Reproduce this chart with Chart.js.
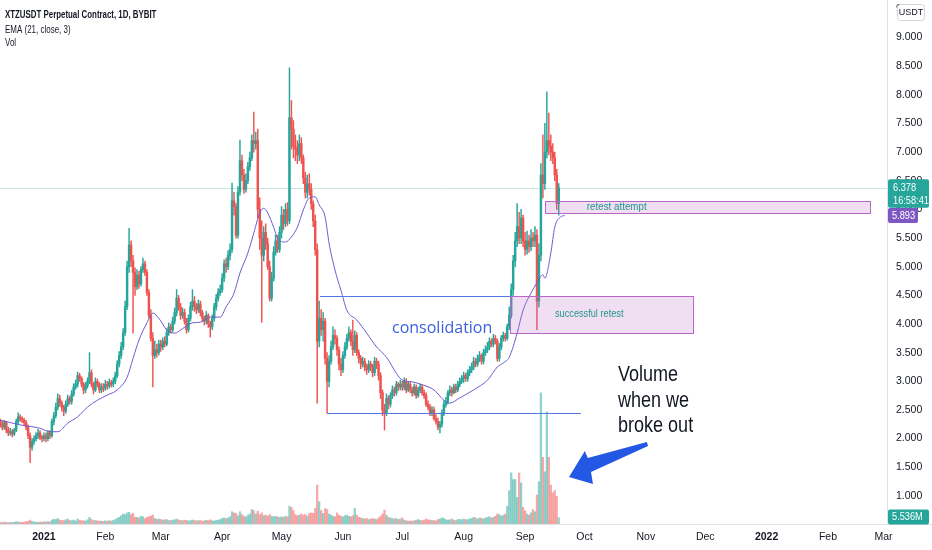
<!DOCTYPE html>
<html><head><meta charset="utf-8">
<script src="https://cdn.jsdelivr.net/npm/chart.js@4.4.0/dist/chart.umd.min.js"></script>
<style>html,body{margin:0;padding:0;background:#fff;overflow:hidden}#wrap{width:932px;height:550px;position:relative}</style>
</head><body><div id="wrap"><canvas id="c" width="932" height="550"></canvas></div>
<script>
// Day index 0 = 1 Jan 2021; first candle = 10 Dec 2020
const firstDay = -22;
const open = [
 2.30,2.25,2.20,2.28,2.15,2.10,2.12,2.08,2.15,2.30,2.38,2.35,2.32,2.28,2.20,2.05,1.85,1.95,2.00,2.05,2.10,2.02,
 2.00,2.05,2.00,2.10,2.05,2.30,2.40,2.55,2.70,2.62,2.55,2.48,2.60,2.70,2.65,2.78,2.90,2.95,3.10,3.05,2.95,2.85,2.92,3.00,3.15,2.95,2.85,3.00,2.95,2.85,2.90,
 2.88,2.95,2.92,2.98,2.95,3.00,3.10,3.30,3.45,3.60,3.85,4.30,5.00,5.38,5.10,4.90,4.65,4.85,4.70,4.95,5.05,4.90,4.55,4.15,3.75,3.45,3.55,3.50,
 3.65,3.60,3.70,3.65,3.85,3.95,3.90,4.05,4.20,4.45,4.30,4.15,4.20,4.05,3.90,4.10,4.30,4.40,4.30,4.25,4.35,4.20,4.10,4.05,4.15,4.00,3.95,4.10,4.30,4.45,4.55,
 4.60,4.80,5.05,5.00,5.20,5.30,6.15,6.05,5.55,6.30,6.85,6.60,6.35,6.50,6.75,6.90,7.20,7.15,7.20,6.00,5.50,5.20,5.60,5.40,5.00,4.45,4.80,5.25,5.45,5.30,
 5.60,5.90,5.75,6.00,5.80,7.60,7.40,7.10,7.05,6.95,7.15,6.90,6.55,6.30,6.45,6.35,6.10,5.80,5.30,3.70,4.10,3.90,4.05,3.40,3.00,3.35,3.60,3.80,3.75,3.55,3.30,
 3.20,3.45,3.60,3.75,3.85,3.70,3.55,3.80,3.50,3.40,3.30,3.35,3.25,3.20,3.30,3.25,3.15,3.35,3.30,3.10,2.80,2.50,2.45,2.70,2.60,2.75,2.85,2.80,2.95,2.90,
 2.95,2.90,3.00,2.85,2.95,2.85,2.80,2.90,2.75,2.85,2.90,2.80,2.75,2.60,2.55,2.45,2.50,2.35,2.30,2.20,2.25,2.45,2.60,2.65,2.80,2.85,2.80,2.90,2.85,2.95,3.00,
 3.05,3.10,3.05,3.15,3.20,3.25,3.35,3.30,3.40,3.45,3.35,3.50,3.55,3.60,3.70,3.65,3.75,3.70,3.40,3.60,3.75,3.80,3.75,3.95,4.15,4.60,5.10,5.45,5.70,5.50,5.85,
 5.45,5.30,5.45,5.35,5.50,5.45,5.55,4.40,5.20,6.60,6.45,7.00,7.20,7.10,7.00,6.90,6.60,6.10
];
const high = [
 2.34,2.30,2.32,2.30,2.20,2.18,2.16,2.18,2.34,2.45,2.42,2.38,2.36,2.32,2.24,2.10,2.00,2.05,2.10,2.16,2.14,2.06,
 2.10,2.10,2.14,2.14,2.34,2.46,2.62,2.78,2.76,2.66,2.58,2.66,2.76,2.74,2.84,2.96,3.02,3.16,3.14,3.08,2.98,2.98,3.06,3.50,3.20,2.98,3.06,3.04,2.98,2.96,2.96,
 3.02,3.00,3.04,3.02,3.06,3.16,3.36,3.52,3.68,3.92,4.40,5.10,5.67,5.45,5.20,4.98,4.95,4.92,5.00,5.15,5.10,4.95,4.60,4.25,3.85,3.70,3.65,3.72,
 3.72,3.76,3.78,3.92,4.02,4.00,4.12,4.28,4.60,4.50,4.36,4.28,4.26,4.10,4.16,4.38,4.60,4.48,4.36,4.42,4.40,4.24,4.14,4.22,4.18,4.05,4.16,4.36,4.52,4.62,4.68,
 4.88,5.12,5.15,5.28,5.40,6.46,6.30,6.10,6.40,7.21,6.95,6.70,6.62,6.82,7.00,7.30,7.70,7.35,7.40,6.20,5.80,5.70,5.75,5.50,5.10,4.90,5.35,5.55,5.55,5.70,
 6.05,6.00,6.10,6.12,8.47,7.90,7.55,7.30,7.20,7.30,7.25,6.95,6.65,6.60,6.62,6.45,6.15,5.90,5.40,4.40,4.25,4.20,4.10,3.50,3.45,3.70,3.95,3.90,3.80,3.60,3.40,
 3.52,3.68,3.82,3.95,3.90,4.07,3.88,3.85,3.55,3.45,3.42,3.40,3.30,3.36,3.35,3.30,3.42,3.40,3.35,3.15,2.85,2.60,2.78,2.75,2.80,2.92,2.90,3.00,2.98,3.02,
 3.00,3.06,3.05,3.00,2.98,2.90,2.95,2.94,2.90,2.95,2.94,2.85,2.80,2.66,2.60,2.56,2.55,2.42,2.36,2.30,2.50,2.66,2.72,2.84,2.92,2.90,2.95,2.95,3.00,3.06,3.10,
 3.16,3.14,3.20,3.26,3.32,3.42,3.40,3.46,3.52,3.48,3.56,3.62,3.68,3.76,3.74,3.82,3.80,3.74,3.66,3.80,3.86,3.84,4.00,4.30,4.70,5.20,5.60,6.10,5.95,6.00,5.90,
 5.60,5.62,5.55,5.65,5.60,5.70,5.65,5.40,6.80,7.30,7.50,8.05,7.68,7.30,7.15,7.00,6.70,6.45
];
const low = [
 2.20,2.15,2.16,2.10,2.05,2.06,2.03,2.05,2.12,2.25,2.30,2.28,2.24,2.15,2.00,1.58,1.80,1.90,1.96,2.00,1.98,1.94,
 1.96,1.94,1.96,2.00,2.02,2.24,2.36,2.50,2.56,2.48,2.40,2.44,2.56,2.60,2.60,2.74,2.86,2.90,3.00,2.90,2.78,2.80,2.88,2.96,2.90,2.78,2.82,2.90,2.80,2.80,2.82,
 2.84,2.86,2.88,2.90,2.90,2.96,3.06,3.25,3.40,3.55,3.80,4.25,4.90,5.00,3.84,4.50,4.60,4.62,4.66,4.90,4.85,4.50,4.10,3.70,2.90,3.40,3.42,3.46,
 3.52,3.55,3.60,3.62,3.80,3.84,3.86,4.00,4.14,4.24,4.08,4.10,4.00,3.84,3.86,4.05,4.24,4.22,4.18,4.20,4.14,4.04,3.98,4.00,3.94,3.77,3.90,4.05,4.24,4.40,4.50,
 4.55,4.74,4.90,4.95,5.12,5.25,5.90,5.50,5.50,6.25,6.50,6.28,6.30,6.45,6.68,6.85,7.00,7.05,5.85,5.30,4.03,5.10,5.30,4.95,4.40,4.40,4.75,5.20,5.25,5.25,
 5.50,5.65,5.70,5.72,5.75,7.05,6.90,6.85,6.80,6.85,6.80,6.45,6.20,6.20,6.25,6.00,5.70,5.20,2.62,3.60,3.80,3.70,3.30,2.45,2.90,3.30,3.55,3.65,3.45,3.20,3.10,
 3.15,3.40,3.55,3.70,3.62,3.45,3.50,3.45,3.32,3.22,3.25,3.18,3.12,3.15,3.18,3.08,3.10,3.22,3.02,2.70,2.40,2.15,2.40,2.52,2.55,2.70,2.74,2.76,2.84,2.85,
 2.84,2.85,2.80,2.82,2.80,2.74,2.76,2.70,2.72,2.80,2.76,2.70,2.56,2.50,2.40,2.40,2.32,2.25,2.15,2.10,2.20,2.40,2.55,2.60,2.75,2.74,2.78,2.80,2.82,2.90,2.96,
 2.98,3.00,3.00,3.10,3.15,3.20,3.25,3.26,3.34,3.30,3.30,3.45,3.50,3.55,3.60,3.60,3.65,3.35,3.35,3.55,3.70,3.70,3.72,3.90,4.10,4.50,5.00,5.35,5.40,5.40,5.35,
 5.20,5.22,5.25,5.28,5.35,5.35,3.90,4.30,5.10,6.20,6.35,6.90,6.95,6.85,6.80,6.50,6.00,5.90
];
const close = [
 2.25,2.20,2.28,2.15,2.10,2.12,2.08,2.15,2.30,2.38,2.35,2.32,2.28,2.20,2.05,1.85,1.95,2.00,2.05,2.10,2.02,2.00,
 2.05,2.00,2.10,2.05,2.30,2.40,2.55,2.70,2.62,2.55,2.48,2.60,2.70,2.65,2.78,2.90,2.95,3.10,3.05,2.95,2.85,2.92,3.00,3.15,2.95,2.85,3.00,2.95,2.85,2.90,2.88,
 2.95,2.92,2.98,2.95,3.00,3.10,3.30,3.45,3.60,3.85,4.30,5.00,5.38,5.10,4.90,4.65,4.85,4.70,4.95,5.05,4.90,4.55,4.15,3.75,3.45,3.55,3.50,3.65,
 3.60,3.70,3.65,3.85,3.95,3.90,4.05,4.20,4.45,4.30,4.15,4.20,4.05,3.90,4.10,4.30,4.40,4.30,4.25,4.35,4.20,4.10,4.05,4.15,4.00,3.95,4.10,4.30,4.45,4.55,4.60,
 4.80,5.05,5.00,5.20,5.30,6.15,6.05,5.55,6.30,6.85,6.60,6.35,6.50,6.75,6.90,7.20,7.15,7.20,6.00,5.50,5.20,5.60,5.40,5.00,4.45,4.80,5.25,5.45,5.30,5.60,
 5.90,5.75,6.00,5.80,7.60,7.40,7.10,7.05,6.95,7.15,6.90,6.55,6.30,6.45,6.35,6.10,5.80,5.30,3.70,4.10,3.90,4.05,3.40,3.00,3.35,3.60,3.80,3.75,3.55,3.30,3.20,
 3.45,3.60,3.75,3.85,3.70,3.55,3.80,3.50,3.40,3.30,3.35,3.25,3.20,3.30,3.25,3.15,3.35,3.30,3.10,2.80,2.50,2.45,2.70,2.60,2.75,2.85,2.80,2.95,2.90,2.95,
 2.90,3.00,2.85,2.95,2.85,2.80,2.90,2.75,2.85,2.90,2.80,2.75,2.60,2.55,2.45,2.50,2.35,2.30,2.20,2.25,2.45,2.60,2.65,2.80,2.85,2.80,2.90,2.85,2.95,3.00,3.05,
 3.10,3.05,3.15,3.20,3.25,3.35,3.30,3.40,3.45,3.35,3.50,3.55,3.60,3.70,3.65,3.75,3.70,3.40,3.60,3.75,3.80,3.75,3.95,4.15,4.60,5.10,5.45,5.70,5.50,5.85,5.45,
 5.30,5.45,5.35,5.50,5.45,5.55,4.40,5.20,6.60,6.45,7.00,7.20,7.10,7.00,6.90,6.60,6.10,6.378
];
// volume in millions
const volume = [
 1.5,1.2,1.8,1.4,1.3,1.5,1.2,1.6,2.0,1.8,1.5,1.4,1.6,2.2,2.5,3.5,2.4,1.8,1.6,1.5,1.8,1.6,
 2.0,1.8,2.2,2.0,3.5,4.2,4.0,5.0,3.6,3.2,3.0,3.8,4.5,3.2,3.0,3.6,2.8,4.5,3.4,2.8,3.0,2.6,3.8,6.0,4.2,3.0,3.2,2.8,2.6,2.5,2.4,
 2.8,2.5,3.0,2.6,3.2,4.0,5.2,6.0,7.5,9.0,8.5,10.0,10.5,8.5,9.5,6.0,6.0,5.5,7.0,6.5,4.8,6.0,6.5,7.0,8.0,5.0,4.2,4.5,
 4.0,3.5,3.8,4.0,3.2,3.0,3.5,3.8,4.5,3.6,3.2,3.0,3.4,3.2,2.8,3.0,3.6,3.2,2.8,3.0,3.2,2.6,2.8,3.4,3.0,3.8,3.0,2.6,3.2,3.6,4.0,
 5.0,5.5,4.8,5.5,6.5,11.0,10.0,9.5,7.5,11.0,8.5,7.0,6.5,8.0,9.0,13.0,12.0,9.0,11.5,8.5,10.0,7.5,8.0,7.0,8.5,7.0,6.5,7.0,6.5,6.0,
 6.5,6.0,7.0,6.5,16.0,15.0,12.0,8.5,7.5,8.0,9.0,8.0,8.5,7.0,9.5,10.0,9.5,14.0,35.0,20.0,12.0,9.5,14.0,13.0,9.0,8.0,7.0,6.5,10.0,8.0,7.0,
 6.5,7.5,8.0,7.0,6.5,7.5,14.0,8.0,6.0,5.5,5.0,4.5,5.0,4.0,4.5,5.0,4.5,4.0,5.5,7.0,9.0,12.5,8.0,6.0,5.5,5.0,4.5,5.0,4.0,4.5,
 5.5,3.5,3.0,2.5,2.8,2.6,3.0,3.5,4.0,3.2,3.0,3.5,4.5,3.8,3.5,3.0,3.2,2.8,4.0,4.5,5.5,5.0,4.0,3.5,3.8,4.5,3.5,3.0,4.0,4.2,3.8,
 4.5,3.8,4.0,4.5,5.0,6.0,5.5,4.5,5.5,5.0,4.5,5.5,6.0,6.5,5.5,6.0,7.0,9.0,8.5,7.0,8.0,9.0,16.0,30.0,46.0,40.0,40.0,24.0,46.0,37.0,15.0,
 12.0,9.0,8.0,10.0,13.0,11.0,26.0,38.0,118.0,60.0,47.0,101.0,60.0,35.0,28.0,30.0,25.0,5.536
];
// EMA (21, close, offset 3)
const emaDays = [-22,-12,-2,3,7,12,17,22,27,32,37,42,45,48,52,55,58,62,66,70,75,79,84,89,92,96,99,103,106,109,111,113,116,118,122,125,128,131,134,137,139,142,144,147,150,153,158,163,168,173,178,181,186,191,197,202,205,210,217,224,229,232,235,239,242,246,249,252,253,256,258,261,263];
const emaValues = [2.32,2.24,2.18,2.12,2.12,2.27,2.38,2.55,2.67,2.76,2.85,3.07,3.40,3.72,4.02,4.19,4.10,3.90,3.84,3.92,4.02,4.03,4.12,4.12,4.30,4.54,4.89,5.24,5.59,5.94,6.02,5.94,5.69,5.50,5.43,5.52,5.69,5.99,6.20,6.22,6.08,5.87,5.41,4.94,4.59,4.24,4.07,3.84,3.60,3.42,3.14,3.02,2.99,2.94,2.85,2.67,2.62,2.71,2.85,3.02,3.25,3.32,3.42,3.84,4.24,4.54,4.72,4.86,4.80,5.24,5.69,5.87,5.893];
const monthTickDays = [0,31,59,90,120,151,181,212,243,273,304,334,365,396,424];
const monthTickLabels = ['2021','Feb','Mar','Apr','May','Jun','Jul','Aug','Sep','Oct','Nov','Dec','2022','Feb','Mar'];
const yearTickDays = [0,365];
const priceTicks = [1,1.5,2,2.5,3,3.5,4,4.5,5,5.5,6,6.5,7,7.5,8,8.5,9,9.5];

// drawings (in day / price units)
const NARROW = '"Liberation Sans", Arial, sans-serif';
const consolidationLines = [{from:139.4,to:235.4,price:4.49},{from:142.9,to:271.2,price:2.45}];
const zoneBoxes = [{from:235.4,to:327.8,top:4.49,bottom:3.84},{from:253,to:417.2,top:6.15,bottom:5.94}];
const zoneTexts = [
 {text:'consolidation',day:175.8,price:3.843,font:'16px "Open Sans", sans-serif',color:'#3a62dc',sx:1},
 {text:'successful retest',day:258.1,price:4.122,font:'11.5px ' + NARROW,color:'#22968a',sx:0.8},
 {text:'retest attempt',day:274.2,price:5.99,font:'11.5px ' + NARROW,color:'#22968a',sx:0.85},
 {text:'Volume',day:289.9,price:3.005,font:'22px ' + NARROW,color:'#131722',sx:0.82},
 {text:'when we',day:289.9,price:2.551,font:'22px ' + NARROW,color:'#131722',sx:0.82},
 {text:'broke out',day:289.9,price:2.115,font:'22px ' + NARROW,color:'#131722',sx:0.82}
];
const arrowDays = [304.5,274.7,273.2,265.2,277.3,276.3,305.1];
const arrowPrices = [1.941,1.661,1.784,1.330,1.208,1.417,1.871];

const UP = '#26a69a', DN = '#ef5350';
const N = close.length;
const days = close.map((_, i) => firstDay + i);
const isUp = close.map((c, i) => c >= open[i]);

function narrowText(ctx, text, x0, y0, sx) {
  ctx.save(); ctx.translate(x0, y0); ctx.scale(sx, 1); ctx.fillText(text, 0, 0); ctx.restore();
}

const overlay = {
  id: 'overlay',
  beforeDatasetsDraw(chart) {
    const {ctx, chartArea: a, scales: {y}} = chart;
    const py = Math.round(y.getPixelForValue(close[N-1])) + 0.5;
    ctx.save();
    ctx.strokeStyle = '#c3e6e2'; ctx.lineWidth = 1;
    ctx.beginPath(); ctx.moveTo(a.left, py); ctx.lineTo(a.right, py); ctx.stroke();
    ctx.restore();
  },
  afterDatasetsDraw(chart) {
    const {ctx, chartArea: a, scales: {x, y}} = chart;
    ctx.save();
    ctx.beginPath(); ctx.rect(a.left, a.top, a.right - a.left, a.bottom - a.top); ctx.clip();
    zoneBoxes.forEach(b => {
      const x1 = Math.round(x.getPixelForValue(b.from)) + 0.5, x2 = Math.round(x.getPixelForValue(b.to)) + 0.5;
      const y1 = Math.round(y.getPixelForValue(b.top)) + 0.5, y2 = Math.round(y.getPixelForValue(b.bottom)) + 0.5;
      ctx.fillStyle = 'rgba(186,104,200,0.22)';
      ctx.fillRect(x1, y1, x2 - x1, y2 - y1);
      ctx.strokeStyle = '#b967c7'; ctx.lineWidth = 1;
      ctx.strokeRect(x1, y1, x2 - x1, y2 - y1);
    });
    ctx.strokeStyle = '#5479e2'; ctx.lineWidth = 1;
    consolidationLines.forEach(l => {
      const yy = Math.round(y.getPixelForValue(l.price)) + 0.5;
      ctx.beginPath(); ctx.moveTo(x.getPixelForValue(l.from), yy); ctx.lineTo(x.getPixelForValue(l.to), yy); ctx.stroke();
    });
    ctx.textBaseline = 'alphabetic'; ctx.textAlign = 'left';
    zoneTexts.forEach(t => {
      ctx.font = t.font; ctx.fillStyle = t.color;
      narrowText(ctx, t.text, x.getPixelForValue(t.day), y.getPixelForValue(t.price), t.sx);
    });
    ctx.fillStyle = '#2358e5';
    ctx.beginPath();
    arrowDays.forEach((d, i) => {
      const px = x.getPixelForValue(d), py = y.getPixelForValue(arrowPrices[i]);
      if (i === 0) ctx.moveTo(px, py); else ctx.lineTo(px, py);
    });
    ctx.closePath(); ctx.fill();
    ctx.restore();
  },
  afterDraw(chart) {
    const {ctx, chartArea: a, scales: {y, yv}} = chart;
    ctx.save();
    ctx.strokeStyle = '#e0e3eb'; ctx.lineWidth = 1;
    ctx.beginPath(); ctx.moveTo(a.right + 0.5, 0); ctx.lineTo(a.right + 0.5, a.bottom); ctx.stroke();
    ctx.beginPath(); ctx.moveTo(0, a.bottom + 0.5); ctx.lineTo(932, a.bottom + 0.5); ctx.stroke();
    const rr = (x0, y0, w, h, r) => { ctx.beginPath(); ctx.roundRect(x0, y0, w, h, r); };
    ctx.textBaseline = 'middle'; ctx.textAlign = 'left';
    const f = '10.5px "Liberation Sans", Arial, sans-serif';
    const yl = y.getPixelForValue(close[N-1]);
    ctx.fillStyle = UP; rr(a.right + 1, yl - 8.5, 41, 28.5, 2); ctx.fill();
    ctx.fillStyle = '#ffffff'; ctx.font = f;
    narrowText(ctx, close[N-1].toFixed(3), a.right + 6, yl + 0.5, 0.88);
    narrowText(ctx, '16:58:41', a.right + 6, yl + 13, 0.88);
    const ye = y.getPixelForValue(emaValues[emaValues.length-1]);
    ctx.fillStyle = '#7e57c2'; rr(a.right + 1, ye - 7.5, 30, 15, 2); ctx.fill();
    ctx.fillStyle = '#ffffff';
    narrowText(ctx, emaValues[emaValues.length-1].toFixed(3), a.right + 5, ye + 0.5, 0.88);
    const yvv = Math.min(yv.getPixelForValue(volume[N-1]), a.bottom - 7);
    ctx.fillStyle = UP; rr(a.right + 1, yvv - 7.5, 41, 15, 2); ctx.fill();
    ctx.fillStyle = '#ffffff';
    narrowText(ctx, volume[N-1].toFixed(3) + 'M', a.right + 5, yvv + 0.5, 0.88);
    ctx.fillStyle = '#ffffff'; ctx.strokeStyle = '#d1d4dc';
    rr(a.right + 10.5, 4.5, 27, 16, 3); ctx.fill(); ctx.stroke();
    ctx.fillStyle = '#131722'; ctx.textAlign = 'center'; ctx.font = '9px "Liberation Sans", Arial, sans-serif';
    ctx.fillText('USDT', a.right + 24, 13);
    ctx.textAlign = 'left';
    ctx.font = 'bold 10.5px "Liberation Sans", Arial, sans-serif';
    narrowText(ctx, 'XTZUSDT Perpetual Contract, 1D, BYBIT', 5, 15, 0.75);
    ctx.font = '10.5px "Liberation Sans", Arial, sans-serif';
    narrowText(ctx, 'EMA (21, close, 3)', 5, 30.5, 0.76);
    narrowText(ctx, 'Vol', 5, 43.5, 0.76);
    ctx.restore();
  }
};

new Chart(document.getElementById('c'), {
  type: 'bar',
  data: {
    datasets: [
      { type: 'line', label: 'EMA', data: emaDays.map((d, i) => ({x: d, y: emaValues[i]})),
        borderColor: '#6d5bd0', borderWidth: 1, pointRadius: 0, cubicInterpolationMode: 'monotone',
        yAxisID: 'y', order: 0 },
      { label: 'body', data: days.map((d, i) => ({x: d, y: [open[i], close[i]]})),
        backgroundColor: isUp.map(u => u ? UP : DN), barThickness: 1.8, grouped: false, borderWidth: 0,
        yAxisID: 'y', order: 1 },
      { label: 'wick', data: days.map((d, i) => ({x: d, y: [low[i], high[i]]})),
        backgroundColor: isUp.map(u => u ? UP : DN), barThickness: 0.8, grouped: false, borderWidth: 0,
        yAxisID: 'y', order: 2 },
      { label: 'volume', data: days.map((d, i) => ({x: d, y: volume[i]})),
        backgroundColor: isUp.map(u => u ? 'rgba(38,166,154,0.5)' : 'rgba(239,83,80,0.5)'),
        barThickness: 1.6, grouped: false, borderWidth: 0, yAxisID: 'yv', order: 3 }
    ]
  },
  options: {
    responsive: false, animation: false,
    layout: {padding: 0},
    plugins: {legend: {display: false}, tooltip: {enabled: false}},
    scales: {
      x: {
        type: 'linear', min: -22.2, max: 425.8, offset: false,
        grid: {display: false, drawTicks: false}, border: {display: false},
        afterFit(s) { s.height = 26; s.paddingLeft = 0; s.paddingRight = 0; },
        afterBuildTicks(s) { s.ticks = monthTickDays.map(v => ({value: v})); },
        ticks: {
          autoSkip: false, maxRotation: 0, padding: 7, color: '#131722',
          font: (c) => ({family: '"Liberation Sans", Arial, sans-serif', size: 10.5,
            weight: (c.tick && yearTickDays.includes(c.tick.value)) ? 'bold' : 'normal'}),
          callback: (v) => monthTickLabels[monthTickDays.indexOf(v)]
        }
      },
      y: {
        position: 'right', min: 0.5096, max: 9.6545,
        grid: {display: false, drawTicks: false}, border: {display: false},
        afterFit(s) { s.width = 45; s.paddingTop = 0; s.paddingBottom = 0; },
        afterBuildTicks(s) { s.ticks = priceTicks.map(v => ({value: v})); },
        ticks: {padding: 9, color: '#131722', font: {family: '"Liberation Sans", Arial, sans-serif', size: 10.5},
          callback: (v) => Number(v).toFixed(3)}
      },
      yv: {display: false, min: 0, max: 471.6}
    }
  },
  plugins: [overlay]
});
</script>
</body></html>
